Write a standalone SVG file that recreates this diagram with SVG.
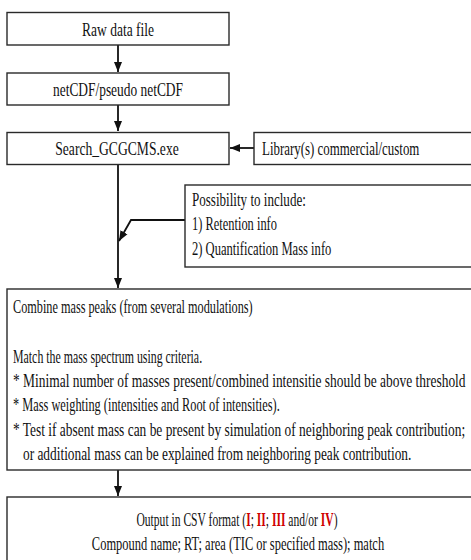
<svg xmlns="http://www.w3.org/2000/svg" width="471" height="560" viewBox="0 0 471 560">
<style>
.box{fill:#fff;stroke:#2a2a2a;stroke-width:1.4}
.t{font-family:"Liberation Serif","Times New Roman",serif;font-size:19px;fill:#111}
.c{text-anchor:middle}
.r{fill:#d00000;font-weight:bold}
.ln{fill:none;stroke:#111;stroke-width:1.8}
</style>
<defs>
<marker id="ah" markerUnits="userSpaceOnUse" markerWidth="10" markerHeight="10" viewBox="0 0 10 10" refX="10" refY="5" orient="auto">
<path d="M0,1 L10,5 L0,9 Z" fill="#111"/>
</marker>
</defs>
<rect width="471" height="560" fill="#fff"/>
<g id="connectors">
<line class="ln" x1="118" y1="45" x2="118" y2="72" marker-end="url(#ah)"/>
<line class="ln" x1="118" y1="105" x2="118" y2="131" marker-end="url(#ah)"/>
<line class="ln" x1="118" y1="164" x2="118" y2="288" marker-end="url(#ah)"/>
<line class="ln" x1="254" y1="148" x2="230" y2="148" marker-end="url(#ah)"/>
<polyline class="ln" points="185,220 131,220 119,241" marker-end="url(#ah)"/>
<line class="ln" x1="118" y1="470" x2="118" y2="496" marker-end="url(#ah)"/>
</g>
<g id="raw">
<rect class="box" x="7" y="12.5" width="222" height="32.5"/>
<text class="t c" transform="translate(118,35.5) scale(0.711,1)">Raw data file</text>
</g>
<g id="netcdf">
<rect class="box" x="7" y="73" width="222" height="32"/>
<text class="t c" transform="translate(118,95.5) scale(0.706,1)">netCDF/pseudo netCDF</text>
</g>
<g id="search">
<rect class="box" x="7" y="132.5" width="222" height="32"/>
<text class="t c" transform="translate(117,155) scale(0.716,1)">Search_GCGCMS.exe</text>
</g>
<g id="library">
<rect class="box" x="254" y="132.5" width="220" height="32"/>
<text class="t" transform="translate(262,155) scale(0.68,1)">Library(s) commercial/custom</text>
</g>
<g id="possibility">
<rect class="box" x="185" y="185" width="289" height="82"/>
<text class="t" transform="translate(192,205.5) scale(0.687,1)">Possibility to include:</text>
<text class="t" transform="translate(192,230) scale(0.655,1)">1) Retention info</text>
<text class="t" transform="translate(192,254.5) scale(0.662,1)">2) Quantification Mass info</text>
</g>
<g id="combine">
<rect class="box" x="7" y="289" width="467" height="181"/>
<text class="t" transform="translate(13,313) scale(0.645,1)">Combine mass peaks (from several modulations)</text>
<text class="t" transform="translate(13,362.5) scale(0.625,1)">Match the mass spectrum using criteria.</text>
<text class="t" transform="translate(13,387) scale(0.708,1)">* Minimal number of masses present/combined intensitie should be above threshold</text>
<text class="t" transform="translate(13,411) scale(0.65,1)">* Mass weighting (intensities and Root of intensities).</text>
<text class="t" transform="translate(13,436) scale(0.7065,1)">* Test if absent mass can be present by simulation of neighboring peak contribution;</text>
<text class="t" transform="translate(23,460) scale(0.703,1)">or additional mass can be explained from neighboring peak contribution.</text>
</g>
<g id="output">
<rect class="box" x="7" y="497" width="467" height="70"/>
<text class="t c" transform="translate(237,525.5) scale(0.61,1)">Output in CSV format (<tspan class="r">I</tspan>; <tspan class="r">II</tspan>; <tspan class="r">III</tspan> and/or <tspan class="r">IV</tspan>)</text>
<text class="t c" transform="translate(238,550) scale(0.657,1)">Compound name; RT; area (TIC or specified mass); match</text>
</g>
</svg>
